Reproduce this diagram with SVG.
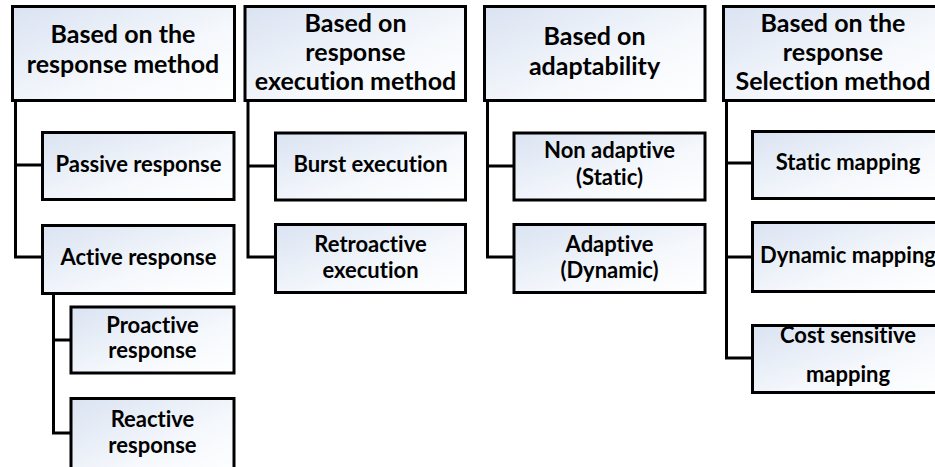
<svg xmlns="http://www.w3.org/2000/svg" width="935" height="467" viewBox="0 0 935 467">
  <defs>
    <linearGradient id="boxFill" x1="0" y1="0" x2="1" y2="1">
      <stop offset="0" stop-color="#dae3f2"/>
      <stop offset="0.6" stop-color="#f5f8fc"/>
      <stop offset="1" stop-color="#ffffff"/>
    </linearGradient>
  </defs>
  <style>
    .box { fill: url(#boxFill); stroke: #000; stroke-width: 3; }
    .link { fill: none; stroke: #000; stroke-width: 3; }
    text { font-family: Lato, "Open Sans", sans-serif; font-weight: bold; fill: #000; text-anchor: middle; font-variant-ligatures: none; }
    .hd { font-size: 25px; }
    .lb { font-size: 22px; }
  </style>
  <rect width="935" height="467" fill="#fff"/>

  <!-- connectors -->
  <g id="connectors">
    <path class="link" d="M15.5 101 V257 H42 M15.5 165 H42"/>
    <path class="link" d="M53.5 294 V433 H71 M53.5 340 H71"/>
    <path class="link" d="M248 101 V257 H275 M248 166 H275"/>
    <path class="link" d="M487.5 101 V257 H514 M487.5 166 H514"/>
    <path class="link" d="M726.5 101 V358 H752 M726.5 163 H752 M726.5 257 H752"/>
  </g>

  <!-- column 1 -->
  <g id="h-response-method">
    <rect class="box" x="12.5" y="6.5" width="222" height="94"/>
    <text class="hd" x="123" y="43">Based on the</text>
    <text class="hd" x="123" y="73">response method</text>
  </g>
  <g id="passive-response">
    <rect class="box" x="42.5" y="132.5" width="191.5" height="67"/>
    <text class="lb" x="138.5" y="172">Passive response</text>
  </g>
  <g id="active-response">
    <rect class="box" x="42.5" y="225.5" width="191.5" height="68"/>
    <text class="lb" x="138.5" y="265">Active response</text>
  </g>
  <g id="proactive-response">
    <rect class="box" x="71" y="307" width="163" height="66"/>
    <text class="lb" x="152.5" y="333">Proactive</text>
    <text class="lb" x="152.5" y="358">response</text>
  </g>
  <g id="reactive-response">
    <rect class="box" x="71" y="398.5" width="163" height="80"/>
    <text class="lb" x="152.5" y="427">Reactive</text>
    <text class="lb" x="152.5" y="453">response</text>
  </g>

  <!-- column 2 -->
  <g id="h-execution-method">
    <rect class="box" x="245" y="6.5" width="220.5" height="94"/>
    <text class="hd" x="355.5" y="32">Based on</text>
    <text class="hd" x="355.5" y="61">response</text>
    <text class="hd" x="355.5" y="90">execution method</text>
  </g>
  <g id="burst-execution">
    <rect class="box" x="275.5" y="133" width="190" height="67"/>
    <text class="lb" x="370.5" y="172">Burst execution</text>
  </g>
  <g id="retroactive-execution">
    <rect class="box" x="275.5" y="224.5" width="190" height="68"/>
    <text class="lb" x="370.5" y="252">Retroactive</text>
    <text class="lb" x="370.5" y="278">execution</text>
  </g>

  <!-- column 3 -->
  <g id="h-adaptability">
    <rect class="box" x="484.5" y="6.5" width="220.5" height="94"/>
    <text class="hd" x="594.5" y="45">Based on</text>
    <text class="hd" x="594.5" y="75">adaptability</text>
  </g>
  <g id="non-adaptive">
    <rect class="box" x="514" y="133" width="191" height="67"/>
    <text class="lb" x="609.5" y="158">Non adaptive</text>
    <text class="lb" x="609.5" y="185">(Static)</text>
  </g>
  <g id="adaptive">
    <rect class="box" x="514" y="224.5" width="191" height="68"/>
    <text class="lb" x="609.5" y="252">Adaptive</text>
    <text class="lb" x="609.5" y="278">(Dynamic)</text>
  </g>

  <!-- column 4 -->
  <g id="h-selection-method">
    <rect class="box" x="723.5" y="6.5" width="222" height="94"/>
    <text class="hd" x="833" y="32">Based on the</text>
    <text class="hd" x="833" y="61">response</text>
    <text class="hd" x="833" y="90">Selection method</text>
  </g>
  <g id="static-mapping">
    <rect class="box" x="752.5" y="131.5" width="192" height="67"/>
    <text class="lb" x="848" y="170">Static mapping</text>
  </g>
  <g id="dynamic-mapping">
    <rect class="box" x="752.5" y="222.5" width="192" height="69"/>
    <text class="lb" x="848" y="263">Dynamic mapping</text>
  </g>
  <g id="cost-sensitive-mapping">
    <rect class="box" x="752.5" y="325.5" width="192" height="67"/>
    <text class="lb" x="848" y="343">Cost sensitive</text>
    <text class="lb" x="848" y="382">mapping</text>
  </g>
</svg>
